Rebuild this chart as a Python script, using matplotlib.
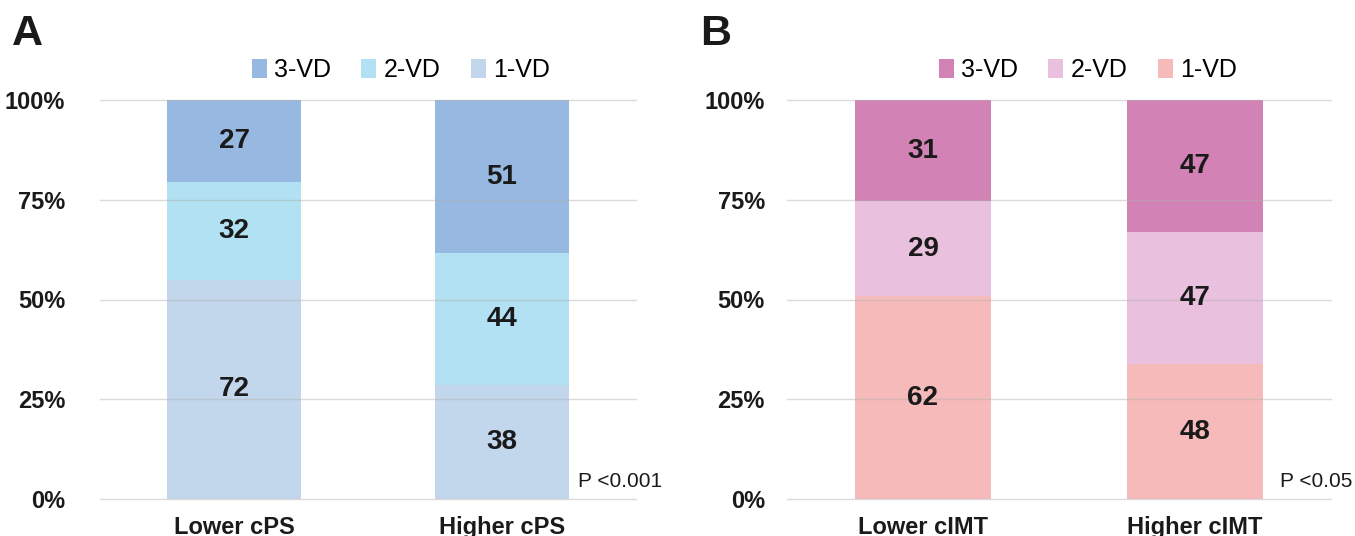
import matplotlib.pyplot as plt
import numpy as np

plt.rcParams['font.family'] = ['Liberation Sans Narrow', 'Liberation Sans', 'DejaVu Sans']

# counts per group, stacked as share of the group total
series = ['1-VD', '2-VD', '3-VD']

cps_groups = ['Lower cPS', 'Higher cPS']
cps_1vd = [72, 38]
cps_2vd = [32, 44]
cps_3vd = [27, 51]

cimt_groups = ['Lower cIMT', 'Higher cIMT']
cimt_1vd = [62, 48]
cimt_2vd = [29, 47]
cimt_3vd = [31, 47]

yticks = [0, 25, 50, 75, 100]
ytick_labels = ['0%', '25%', '50%', '75%', '100%']

blue_colors = ['#c2d7ec', '#b1e1f3', '#97b8e0']
pink_colors = ['#f6baba', '#e9c0dd', '#d382b6']


def stacked(ax, groups, layers, colors, pval, px):
    layers = np.array(layers, dtype=float)
    totals = layers.sum(axis=0)
    pct = layers / totals * 100
    x = np.arange(len(groups))
    bottom = np.zeros(len(groups))
    for k in range(len(layers)):
        ax.bar(x, pct[k], 0.5, bottom=bottom, color=colors[k], label=series[k], zorder=2)
        for i in range(len(groups)):
            ax.text(x[i], bottom[i] + pct[k][i] / 2, f'{int(layers[k][i])}',
                    ha='center', va='center', fontsize=20, fontweight='bold',
                    color='#1a1a1a', zorder=4)
        bottom += pct[k]

    ax.set_xlim(-0.5, 1.5)
    ax.set_ylim(0, 100)
    ax.set_yticks(yticks)
    ax.set_yticklabels(ytick_labels, fontsize=17, fontweight='bold', color='#1a1a1a')
    ax.set_xticks(x)
    ax.set_xticklabels(groups, fontsize=17, fontweight='bold', color='#1a1a1a')
    ax.tick_params(length=0)
    ax.tick_params(axis='x', pad=12)
    for s in ax.spines.values():
        s.set_visible(False)
    ax.yaxis.grid(True, color='#b0b0b0', lw=1, alpha=0.45, zorder=3)
    ax.set_axisbelow(False)
    for gl in ax.get_ygridlines():
        gl.set_clip_on(False)
    ax.text(px, 0.045, pval, transform=ax.transAxes, ha='right', va='center',
            fontsize=15, color='#1a1a1a')


fig = plt.figure(figsize=(13.55, 5.36), dpi=100)

ax1 = fig.add_axes([100 / 1355, 1 - 499 / 536, 536 / 1355, 399 / 536])
stacked(ax1, cps_groups, [cps_1vd, cps_2vd, cps_3vd], blue_colors, 'P <0.001', 1.049)
ax1.tick_params(axis='y', pad=25)

ax2 = fig.add_axes([787 / 1355, 1 - 499 / 536, 544 / 1355, 399 / 536])
stacked(ax2, cimt_groups, [cimt_1vd, cimt_2vd, cimt_3vd], pink_colors, 'P <0.05', 1.040)
ax2.tick_params(axis='y', pad=16)

for ax, cx in [(ax1, 401 / 1355), (ax2, 1088 / 1355)]:
    h, l = ax.get_legend_handles_labels()
    fig.legend(h[::-1], l[::-1], loc='center', bbox_to_anchor=(cx, 1 - 70 / 536),
               ncol=3, frameon=False, fontsize=18, handlelength=0.6, handleheight=0.8,
               handletextpad=0.3, columnspacing=1.2)

fig.text(12 / 1355, 1 - 34 / 536, 'A', fontsize=31, fontweight='bold', va='center', ha='left',
         color='#1a1a1a')
fig.text(700 / 1355, 1 - 34 / 536, 'B', fontsize=31, fontweight='bold', va='center', ha='left',
         color='#1a1a1a')

fig.savefig('out.png', dpi=100)
